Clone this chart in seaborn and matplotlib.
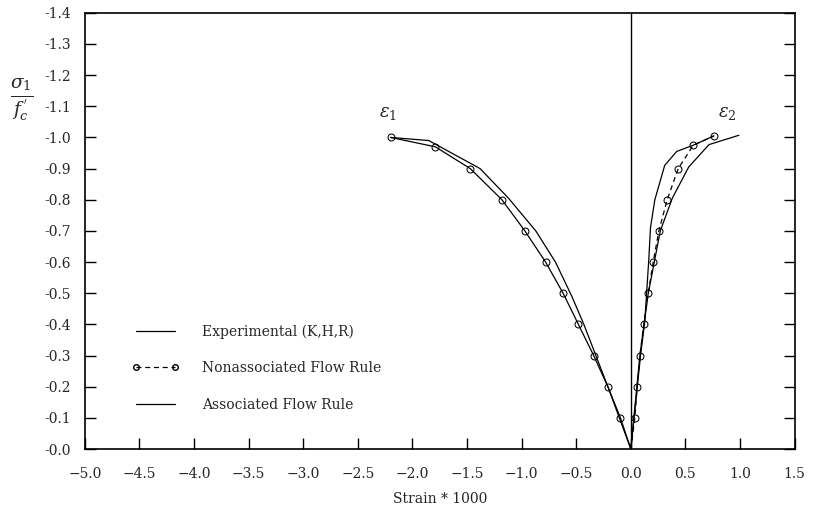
import matplotlib
matplotlib.use("Agg")
import matplotlib.pyplot as plt
import matplotlib.ticker as mticker
from matplotlib.lines import Line2D
import numpy as np
import seaborn as sns

# ==========================================
#            DATA
# ==========================================
# Nonassociated flow rule, epsilon_1 branch (left) and epsilon_2 branch (right)
nonassoc_left_x = [-2.20, -1.79, -1.47, -1.18, -0.97, -0.78, -0.62, -0.48, -0.34, -0.21, -0.095, 0.0]
nonassoc_left_y = [-1.00, -0.97, -0.90, -0.80, -0.70, -0.60, -0.50, -0.40, -0.30, -0.20, -0.10, 0.0]
nonassoc_right_x = [0.0, 0.037, 0.058, 0.083, 0.119, 0.159, 0.205, 0.257, 0.333, 0.434, 0.572, 0.761]
nonassoc_right_y = [0.0, -0.10, -0.20, -0.30, -0.40, -0.50, -0.60, -0.70, -0.80, -0.90, -0.975, -1.005]

# Experimental (K,H,R): left branch then right branch through the origin
exp_x = [-2.20, -1.85, -1.38, -1.12, -0.87, -0.69, -0.54, -0.43, -0.32, -0.21, 0.0,
         0.083, 0.16, 0.27, 0.38, 0.53, 0.716, 0.99]
exp_y = [-1.00, -0.99, -0.90, -0.805, -0.70, -0.60, -0.49, -0.40, -0.30, -0.20, 0.0,
         -0.30, -0.50, -0.70, -0.805, -0.905, -0.977, -1.007]

# Associated flow rule (steep right branch)
assoc_x = [0.0, 0.03, 0.089, 0.128, 0.165, 0.18, 0.22, 0.31, 0.42, 0.572, 0.761]
assoc_y = [0.0, -0.10, -0.30, -0.41, -0.61, -0.71, -0.80, -0.91, -0.955, -0.975, -1.005]

labels = ["Experimental (K,H,R)", "Nonassociated Flow Rule", "Associated Flow Rule"]

x_ticks = np.arange(-5.0, 1.51, 0.5)
y_ticks = np.arange(0.0, -1.41, -0.1)

# ==========================================
#               PLOT
# ==========================================
sns.set_style("ticks")
plt.rcParams["font.family"] = ["DejaVu Serif"]
plt.rcParams["mathtext.fontset"] = "dejavuserif"

fig = plt.figure(figsize=(8.15, 5.12), dpi=100)
ax = fig.add_axes([0.104, 0.123, 0.871, 0.852])

lw = 0.9
mk = dict(marker="o", markersize=5, markerfacecolor="none", markeredgecolor="black")
dash = (0, (4, 3))

sns.lineplot(x=exp_x, y=exp_y, sort=False, estimator=None, color="black",
             linewidth=lw, ax=ax)
sns.lineplot(x=nonassoc_right_x, y=nonassoc_right_y, sort=False, estimator=None,
             color="black", linewidth=lw, linestyle=dash,
             markevery=slice(1, None), ax=ax, **mk)
sns.lineplot(x=nonassoc_left_x, y=nonassoc_left_y, sort=False, estimator=None,
             color="black", linewidth=lw, markevery=slice(0, -1), ax=ax, **mk)
sns.lineplot(x=assoc_x, y=assoc_y, sort=False, estimator=None, color="black",
             linewidth=lw, ax=ax)
ax.axvline(0.0, color="black", linewidth=1.0)

ax.set_xlim(-5.0, 1.5)
ax.set_ylim(0.0, -1.4)
ax.set_xticks(x_ticks)
ax.set_yticks(y_ticks)
ax.xaxis.set_major_formatter(mticker.FuncFormatter(lambda v, p: f"{v:.1f}".replace("-", "\u2212")))
ax.yaxis.set_major_formatter(mticker.FuncFormatter(lambda v, p: f"-{abs(v):.1f}"))
ax.tick_params(axis="both", direction="in", length=8, width=1, labelsize=10, color="black")
ax.tick_params(axis="x", pad=13)
ax.tick_params(axis="y", pad=10, right=True)
for s in ax.spines.values():
    s.set_linewidth(1.2)
    s.set_color("black")

ax.set_xlabel("Strain * 1000", fontsize=10, labelpad=8)
ax.set_ylabel("")
fig.text(22 / 815, 1 - 100 / 512, r"$\frac{\sigma_1}{f_c^{\,'}}$", fontsize=19,
         ha="center", va="center")

ax.text(-2.22, -1.077, r"$\varepsilon_1$", fontsize=13, ha="center", va="center")
ax.text(0.88, -1.077, r"$\varepsilon_2$", fontsize=13, ha="center", va="center")

# legend handles (markers at both ends of the dashed sample, as in the original)
handles = [
    Line2D([], [], color="black", linewidth=lw),
    Line2D([], [], color="black", linewidth=lw, linestyle=dash, markersize=4,
           marker="o", markerfacecolor="none", markeredgecolor="black"),
    Line2D([], [], color="black", linewidth=lw),
]
ax.legend(handles, labels, loc="upper left", bbox_to_anchor=(0.066, 0.285),
          frameon=False, fontsize=10, handlelength=3.4, handletextpad=1.7,
          labelspacing=1.6, borderpad=0, borderaxespad=0, numpoints=2)

fig.savefig("out.png", dpi=100)
